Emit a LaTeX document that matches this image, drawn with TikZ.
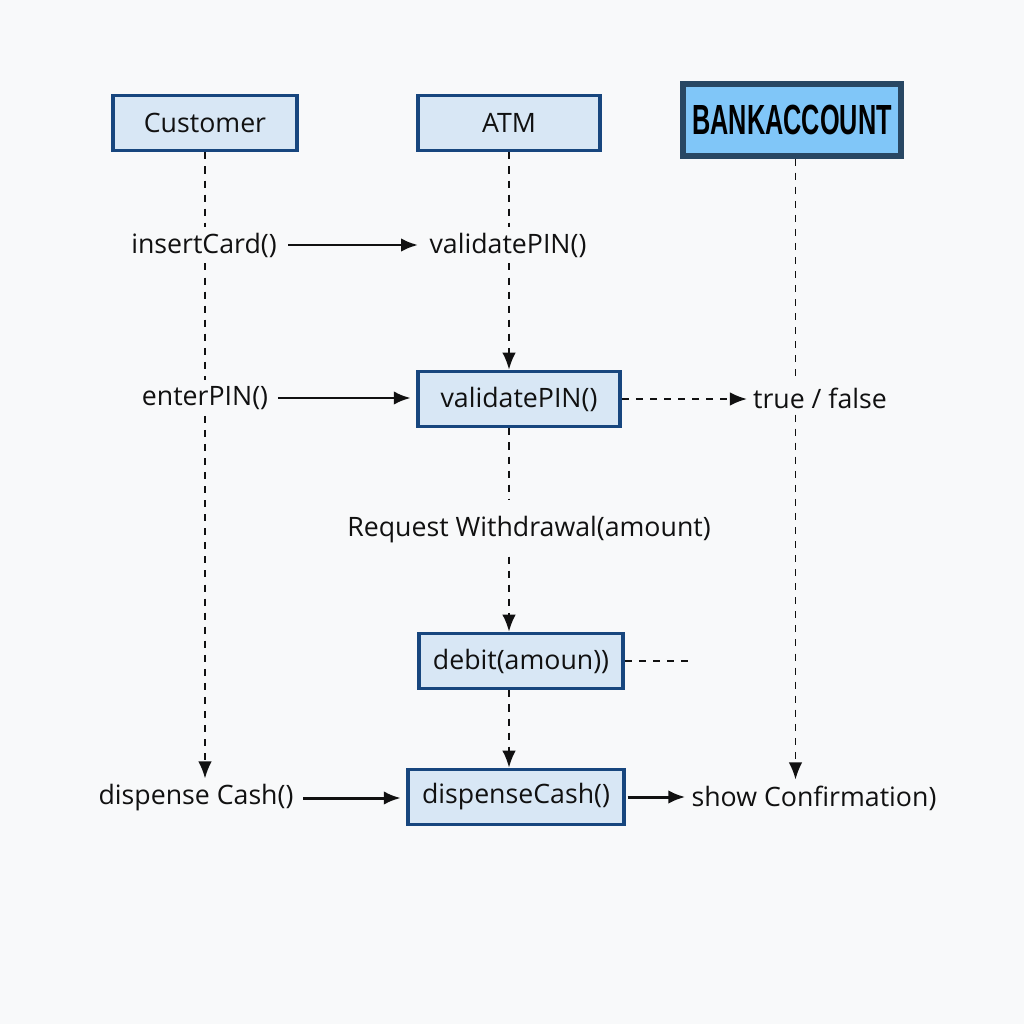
\documentclass[tikz,border=0pt]{standalone}
\usepackage{fontspec}
\setmainfont{Open Sans}
\newfontfamily\bankfont{Liberation Sans}
\usepackage{graphicx}
\usetikzlibrary{arrows.meta,positioning,calc}
\definecolor{seqblue}{HTML}{17467E}
\definecolor{seqfill}{HTML}{D8E7F5}
\definecolor{bankfill}{HTML}{80C6F8}
\definecolor{bankedge}{HTML}{284763}
\definecolor{seqink}{HTML}{111111}
\definecolor{seqpaper}{HTML}{F8F9FA}
\tikzset{
  >={Latex[length=3.4mm,width=2.7mm]},
  objnode/.style={draw=seqblue,line width=2.2pt,fill=seqfill,text=seqink,
                  font=\fontsize{15.2}{18}\selectfont,
                  minimum height=1.1cm,inner sep=3pt},
  banknode/.style={draw=bankedge,line width=3pt,fill=bankfill,text=black,
                   font=\bankfont\bfseries\fontsize{24}{28}\selectfont,
                   minimum width=4.36cm,minimum height=1.44cm,inner sep=3pt},
  msgtext/.style={text=seqink,font=\fontsize{15.2}{18}\selectfont},
  lifeline/.style={dash pattern=on 4pt off 4pt,line width=1pt,draw=seqink},
  callarrow/.style={->,line width=1.7pt,draw=seqink},
  replyarrow/.style={->,dash pattern=on 4pt off 4pt,line width=1.1pt,draw=seqink},
}
\begin{document}
\begin{tikzpicture}[x=0.02cm,y=-0.02cm]
  \fill[seqpaper] (0,0) rectangle (1024,1024);
  % objects
  \node[objnode,minimum width=3.68cm] (cust) at (205,123) {Customer};
  \node[objnode,minimum width=3.64cm] (atm) at (509,123) {ATM};
  \node[banknode] (bank) at (792,120) {\scalebox{0.6}[1]{BANKACCOUNT}};
  % messages
  \node[msgtext] (insert) at (204,245) {insertCard()};
  \node[msgtext] (valtxt) at (508,245) {validatePIN()};
  \node[msgtext] (enter) at (205,398) {enterPIN()};
  \node[objnode,minimum width=4.04cm] (valbox) at (519,399) {validatePIN()};
  \node[msgtext] (result) at (820,398) {true / false};
  \node[msgtext] (request) at (529,530) {Request Withdrawal(amount)};
  \node[objnode,minimum width=4.08cm] (debit) at (521,661) {debit(amoun))};
  \coordinate (debitend) at (692,661);
  \node[msgtext] (dispcust) at (196,798) {dispense Cash()};
  \node[objnode,minimum width=4.32cm] (dispbox) at (516,797) {dispenseCash()};
  \node[msgtext] (confirm) at (814,798) {show Confirmation)};
  % lifelines
  \draw[lifeline] (cust.south) -- (cust.south |- insert.north);
  \draw[lifeline] (cust.south |- insert.south) -- (cust.south |- enter.north);
  \draw[lifeline,->] (cust.south |- enter.south) -- (cust.south |- dispcust.north);
  \draw[lifeline] (atm.south) -- (atm.south |- valtxt.north);
  \draw[lifeline,->] (atm.south |- valtxt.south) -- (atm.south |- valbox.north);
  \draw[lifeline] (atm.south |- valbox.south) -- ([yshift=6pt]atm.south |- request.north);
  \draw[lifeline,->] ([yshift=-4pt]atm.south |- request.south) -- (atm.south |- debit.north);
  \draw[lifeline,->] (atm.south |- debit.south) -- (atm.south |- dispbox.north);
  \draw[lifeline] ([xshift=2pt]bank.south) -- ([xshift=2pt]bank.south |- result.north);
  \draw[lifeline,->] ([xshift=2pt]bank.south |- result.south) -- ([xshift=2pt]bank.south |- confirm.north);
  % calls
  \draw[callarrow] ([xshift=3pt]insert.east) -- ([xshift=-3pt]insert.east -| valtxt.west);
  \draw[callarrow] ([xshift=2pt]enter.east) -- ([xshift=-3pt]enter.east -| valbox.west);
  \draw[replyarrow] (valbox.east) -- (valbox.east -| result.west);
  \draw[lifeline] (debit.east) -- (debitend);
  \draw[callarrow] ([xshift=2pt]dispcust.east) -- ([xshift=-3pt]dispcust.east -| dispbox.west);
  \draw[callarrow] ([xshift=1pt]dispbox.east) -- (dispbox.east -| confirm.west);
\end{tikzpicture}
\end{document}
